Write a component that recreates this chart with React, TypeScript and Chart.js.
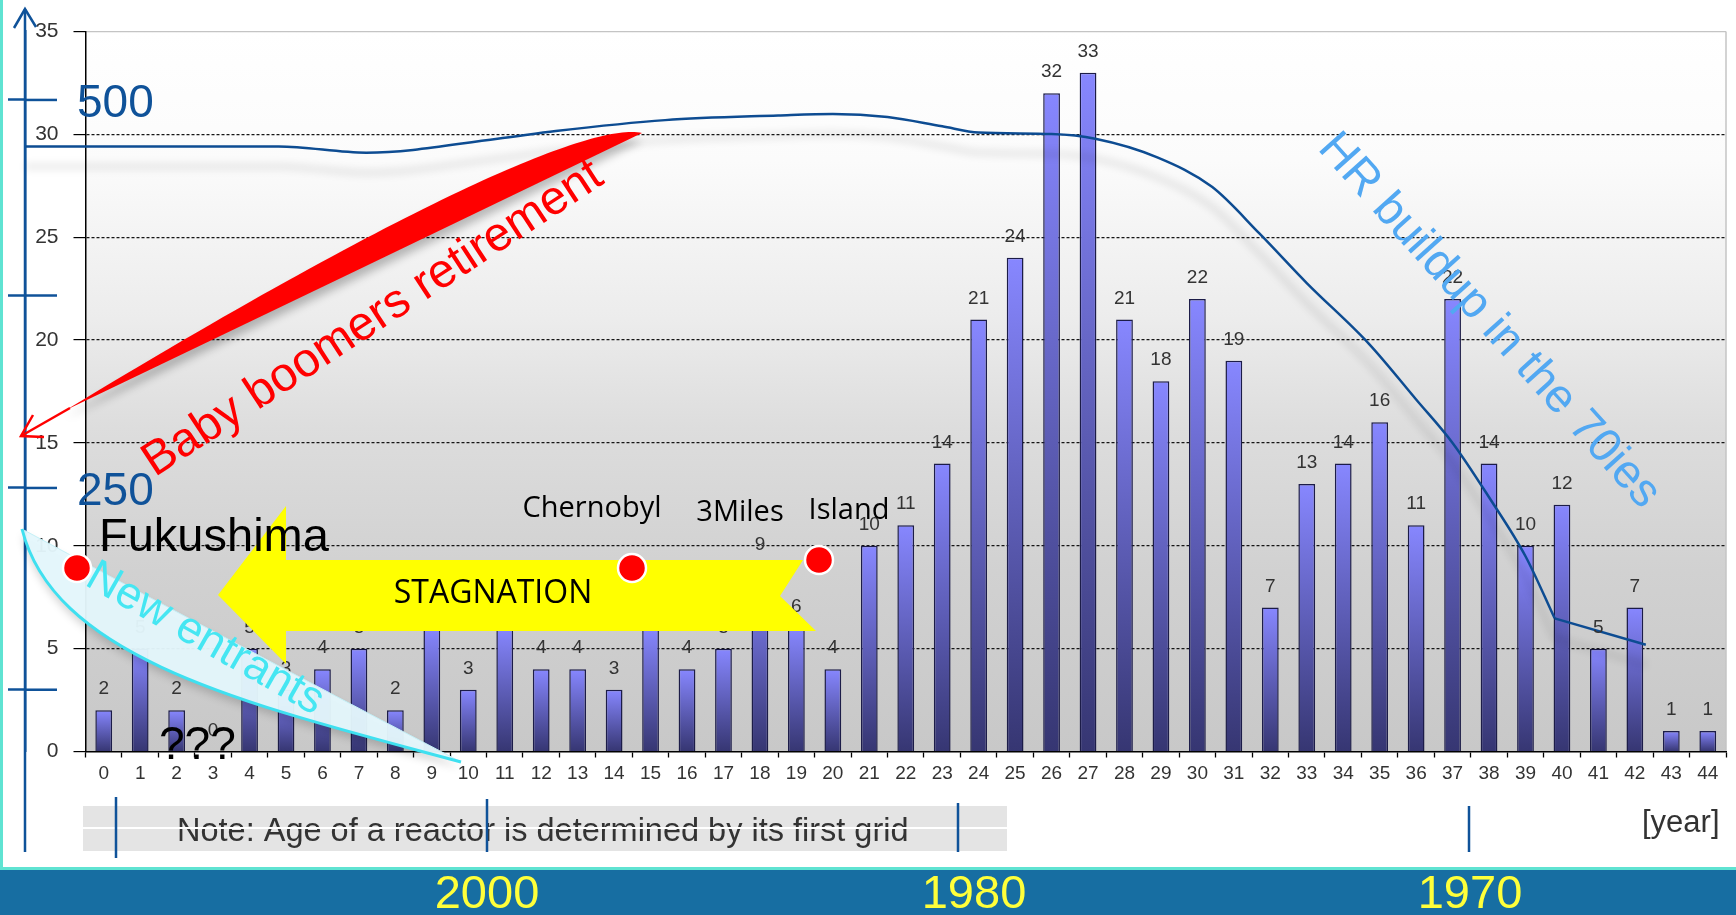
import React, { useEffect, useRef } from 'react';
import { Chart, registerables } from 'chart.js';

Chart.register(...registerables);

// ---------- data ----------
const ageLabels = [
  '0', '1', '2', '3', '4', '5', '6', '7', '8', '9', '10', '11', '12', '13', '14', '15',
  '16', '17', '18', '19', '20', '21', '22', '23', '24', '25', '26', '27', '28', '29', '30',
  '31', '32', '33', '34', '35', '36', '37', '38', '39', '40', '41', '42', '43', '44',
];
const reactorCounts = [
  2, 5, 2, 0, 5, 3, 4, 5, 2, 6, 3, 6, 4, 4, 3, 6, 4, 5, 9, 6, 4, 10, 11, 14, 21, 24, 32, 33,
  21, 18, 22, 19, 7, 13, 14, 16, 11, 22, 14, 10, 12, 5, 7, 1, 1,
];
// HR curve (hand drawn): position along the age axis and staff level
const hrAge = [-2.15, 4.8, 7.2, 10.8, 12.4, 15.4, 18.5, 20.0, 21.5, 23.0, 24.0, 26.0, 27.2, 28.9, 30.4, 31.7, 33.0, 34.7, 36.0, 37.0, 38.0, 39.0, 39.8];
const hrStaff = [470, 470, 466, 475, 480, 487, 490, 491, 489, 483, 479, 478, 475, 463, 444, 414, 382, 343, 307, 279, 244, 206, 166];
// straight tail after the kink
const hrTailAge = [39.8, 42.3];
const hrTailStaff = [166, 149];
const hrTicks = [120, 250, 374, 500];
const hrTickLabels = ['', '250', '', '500'];
const yearMarks = ['2000', '1980', '1970'];

const FONT = "'Liberation Sans', Arial, sans-serif";
const SANS2 = "'Open Sans', 'Noto Sans', sans-serif";
const BLUE = '#0f5299';

const zeroPad = (s: any) => {
  s.paddingTop = 0;
  s.paddingBottom = 0;
  s.paddingLeft = 0;
  s.paddingRight = 0;
};

const bgPlugin = {
  id: 'bgPlugin',
  beforeDraw(chart: any) {
    const { ctx, chartArea: a } = chart;
    ctx.save();
    ctx.fillStyle = '#ffffff';
    ctx.fillRect(0, 0, chart.width, chart.height);
    const g = ctx.createLinearGradient(0, a.top, 0, a.bottom);
    g.addColorStop(0, '#ffffff');
    g.addColorStop(0.18, '#fbfbfb');
    g.addColorStop(0.4, '#ececec');
    g.addColorStop(0.55, '#dddddd');
    g.addColorStop(0.75, '#d1d1d1');
    g.addColorStop(1, '#c8c8c8');
    ctx.fillStyle = g;
    ctx.fillRect(a.left, a.top, a.right - a.left, a.bottom - a.top);
    ctx.strokeStyle = '#c4c4c4';
    ctx.lineWidth = 1.5;
    ctx.beginPath();
    ctx.moveTo(a.right, a.top);
    ctx.lineTo(a.right, a.bottom);
    ctx.stroke();
    ctx.restore();
  },
};

const shadowPlugin = {
  id: 'shadowPlugin',
  beforeDatasetDraw(chart: any, args: any) {
    if (args.index >= 1) {
      const ctx = chart.ctx;
      ctx.save();
      ctx.shadowColor = 'rgba(0,0,0,0.22)';
      ctx.shadowBlur = 9;
      ctx.shadowOffsetY = 20;
    }
  },
  afterDatasetDraw(chart: any, args: any) {
    if (args.index >= 1) chart.ctx.restore();
  },
};

const valueLabels = {
  id: 'valueLabels',
  afterDatasetsDraw(chart: any) {
    const { ctx } = chart;
    const meta = chart.getDatasetMeta(0);
    ctx.save();
    ctx.font = `19px ${FONT}`;
    ctx.fillStyle = '#333333';
    ctx.textAlign = 'center';
    ctx.textBaseline = 'alphabetic';
    meta.data.forEach((bar: any, i: number) => {
      ctx.fillText(String(reactorCounts[i]), bar.x, bar.y - 16);
    });
    ctx.restore();
  },
};

function dot(ctx: CanvasRenderingContext2D, x: number, y: number) {
  ctx.beginPath();
  ctx.arc(x, y, 14, 0, Math.PI * 2);
  ctx.fillStyle = '#ff0000';
  ctx.fill();
  ctx.lineWidth = 2.5;
  ctx.strokeStyle = '#ffffff';
  ctx.stroke();
}

const overlay = {
  id: 'overlay',
  afterDraw(chart: any) {
    const { ctx } = chart;
    const hr = chart.scales.hr;
    const ax = hr.right;
    ctx.save();

    // note box
    ctx.fillStyle = '#e4e4e4';
    ctx.fillRect(83, 806, 924, 45);
    ctx.fillStyle = '#333333';
    ctx.font = `32.5px ${FONT}`;
    ctx.textAlign = 'left';
    ctx.textBaseline = 'alphabetic';
    ctx.fillText('Note: Age of a reactor is determined by its first grid', 177, 841);
    ctx.fillStyle = '#ffffff';
    ctx.fillRect(0, 827, 1010, 2);
    ctx.fillStyle = '#333333';
    ctx.font = `31px ${FONT}`;
    ctx.fillText('[year]', 1642, 832);

    // blue axis extension, arrow and ticks
    ctx.strokeStyle = BLUE;
    ctx.lineWidth = 2.5;
    ctx.beginPath();
    ctx.moveTo(ax, 9);
    ctx.lineTo(ax, 852);
    ctx.stroke();
    ctx.beginPath();
    ctx.moveTo(ax - 11, 28);
    ctx.lineTo(ax, 9);
    ctx.lineTo(ax + 11, 27);
    ctx.stroke();
    hr.ticks.forEach((t: any) => {
      const y = hr.getPixelForValue(t.value);
      ctx.beginPath();
      ctx.moveTo(ax, y);
      ctx.lineTo(57, y);
      ctx.stroke();
    });
    // year tick marks
    [[116, 797, 858], [487, 799, 852], [958, 803, 852], [1469, 806, 852]].forEach(([x, y1, y2]) => {
      ctx.beginPath();
      ctx.moveTo(x, y1);
      ctx.lineTo(x, y2);
      ctx.stroke();
    });

    // bottom band
    ctx.fillStyle = '#176ea2';
    ctx.fillRect(0, 870, chart.width, 45);
    ctx.fillStyle = '#5fe3d2';
    ctx.fillRect(0, 867, chart.width, 3);
    ctx.fillRect(0, 0, 3, 870);
    ctx.fillStyle = '#ffff3a';
    ctx.font = `47px ${FONT}`;
    ctx.textAlign = 'center';
    const yearX = [487, 974, 1470];
    yearMarks.forEach((t, i) => ctx.fillText(t, yearX[i], 908));

    // red blade "Baby boomers retirement"
    ctx.save();
    ctx.shadowColor = 'rgba(0,0,0,0.25)';
    ctx.shadowBlur = 8;
    ctx.shadowOffsetY = 8;
    ctx.fillStyle = '#ff0000';
    ctx.beginPath();
    ctx.moveTo(642, 133);
    ctx.bezierCurveTo(595, 122, 420, 195, 66, 410);
    ctx.quadraticCurveTo(354, 272, 642, 133);
    ctx.closePath();
    ctx.fill();
    ctx.restore();
    ctx.strokeStyle = '#ff0000';
    ctx.lineWidth = 2.5;
    ctx.beginPath();
    ctx.moveTo(70, 408);
    ctx.lineTo(21, 436);
    ctx.stroke();
    ctx.beginPath();
    ctx.moveTo(44, 437);
    ctx.lineTo(21, 436);
    ctx.lineTo(33, 415);
    ctx.stroke();

    ctx.save();
    ctx.translate(373, 319);
    ctx.rotate((-33.2 * Math.PI) / 180);
    ctx.fillStyle = '#ff0000';
    ctx.font = `48px ${FONT}`;
    ctx.textAlign = 'center';
    ctx.textBaseline = 'middle';
    ctx.fillText('Baby boomers retirement', 0, 0);
    ctx.restore();

    // yellow arrow
    ctx.fillStyle = '#ffff00';
    ctx.beginPath();
    ctx.moveTo(218, 595);
    ctx.lineTo(286, 506);
    ctx.lineTo(286, 560);
    ctx.lineTo(803, 560);
    ctx.lineTo(780, 596);
    ctx.lineTo(816, 631);
    ctx.lineTo(286, 631);
    ctx.lineTo(286, 664);
    ctx.closePath();
    ctx.fill();
    ctx.fillStyle = '#000000';
    ctx.font = `32px ${SANS2}`;
    ctx.textAlign = 'center';
    ctx.textBaseline = 'middle';
    ctx.fillText('STAGNATION', 493, 594);

    // new entrants crescent
    ctx.save();
    ctx.shadowColor = 'rgba(0,0,0,0.18)';
    ctx.shadowBlur = 8;
    ctx.shadowOffsetY = 6;
    ctx.fillStyle = 'rgba(228,247,252,0.96)';
    ctx.beginPath();
    ctx.moveTo(22, 529);
    ctx.quadraticCurveTo(200, 625, 461, 762);
    ctx.bezierCurveTo(250, 705, 55, 660, 22, 529);
    ctx.closePath();
    ctx.fill();
    ctx.restore();
    ctx.strokeStyle = '#c4f0f7';
    ctx.lineWidth = 1;
    ctx.beginPath();
    ctx.moveTo(22, 529);
    ctx.quadraticCurveTo(200, 625, 461, 762);
    ctx.stroke();
    ctx.strokeStyle = '#3fe0f0';
    ctx.lineWidth = 3;
    ctx.beginPath();
    ctx.moveTo(461, 762);
    ctx.bezierCurveTo(250, 705, 55, 660, 22, 529);
    ctx.stroke();

    ctx.save();
    ctx.translate(205, 639);
    ctx.rotate((29.6 * Math.PI) / 180);
    ctx.fillStyle = '#45e6f2';
    ctx.font = `45px ${FONT}`;
    ctx.textAlign = 'center';
    ctx.textBaseline = 'middle';
    ctx.fillText('New entrants', 0, 0);
    ctx.restore();

    // events
    ctx.fillStyle = '#000000';
    ctx.font = `47px ${FONT}`;
    ctx.textAlign = 'left';
    ctx.textBaseline = 'alphabetic';
    ctx.fillText('Fukushima', 99, 551);
    ctx.font = `46px ${FONT}`;
    ctx.fillText('???', 159, 759);

    ctx.font = `29px ${SANS2}`;
    ctx.textAlign = 'center';
    ctx.fillText('Chernobyl', 592, 517);
    ctx.fillText('3Miles', 740, 521);
    ctx.fillText('Island', 849, 519);

    dot(ctx, 77, 568);
    dot(ctx, 632, 568);
    dot(ctx, 819, 560);

    // HR text
    ctx.save();
    ctx.translate(1489, 321);
    ctx.rotate((48 * Math.PI) / 180);
    ctx.fillStyle = '#52a8f2';
    ctx.font = `47px ${FONT}`;
    ctx.textAlign = 'center';
    ctx.textBaseline = 'middle';
    ctx.fillText('HR buildup in the 70ies', 0, 0);
    ctx.restore();

    ctx.restore();
  },
};

export default function App() {
  const ref = useRef<HTMLCanvasElement | null>(null);

  useEffect(() => {
    document.body.style.margin = '0';
    document.body.style.overflow = 'hidden';
    const canvas = ref.current;
    if (!canvas) return;

    const barFill = (c: any) => {
      const chart = c.chart;
      if (!chart.chartArea || c.type !== 'data') return '#7b7bf0';
      const y = chart.scales.y;
      const top = y.getPixelForValue(c.raw as number);
      const bottom = y.getPixelForValue(0);
      if (bottom - top < 2) return '#7b7bf0';
      const g = chart.ctx.createLinearGradient(0, top, 0, bottom);
      g.addColorStop(0, '#8787ff');
      g.addColorStop(1, '#363672');
      return g;
    };

    const hrLine = {
      xAxisID: 'xl',
      yAxisID: 'hr',
      borderColor: '#0d4c92',
      borderWidth: 2.5,
      pointRadius: 0,
      clip: false,
      order: 0,
    };

    const chart = new Chart(canvas, {
      type: 'bar',
      data: {
        labels: ageLabels,
        datasets: [
          {
            type: 'bar',
            label: 'Reactors',
            data: reactorCounts,
            xAxisID: 'x',
            yAxisID: 'y',
            backgroundColor: barFill,
            borderColor: '#1c1c48',
            borderWidth: 1.5,
            grouped: false,
            categoryPercentage: 1,
            barPercentage: 0.46,
            order: 1,
          } as any,
          {
            ...hrLine,
            type: 'line',
            label: 'HR',
            data: hrAge.map((a, i) => ({ x: a, y: hrStaff[i] })),
            cubicInterpolationMode: 'monotone',
          } as any,
          {
            ...hrLine,
            type: 'line',
            label: 'HR tail',
            data: hrTailAge.map((a, i) => ({ x: a, y: hrTailStaff[i] })),
            tension: 0,
          } as any,
        ],
      },
      options: {
        responsive: false,
        animation: false,
        devicePixelRatio: 1,
        layout: { padding: { top: 31.5, right: 10, bottom: 0, left: 0 } },
        plugins: { legend: { display: false }, tooltip: { enabled: false } },
        scales: {
          x: {
            type: 'category',
            offset: true,
            grid: { display: true, drawOnChartArea: false, drawTicks: true, tickLength: 6, tickColor: '#000', tickWidth: 1.3, offset: true },
            border: { display: true, color: '#000', width: 1.5 },
            ticks: { font: { family: FONT, size: 19 }, color: '#333', padding: 5, autoSkip: false, maxRotation: 0 },
            afterFit: (s: any) => { s.height = 163.5; zeroPad(s); },
          },
          xl: {
            type: 'linear',
            display: false,
            offset: false,
            grid: { offset: false },
            bounds: 'data',
            min: -0.5,
            max: 44.5,
          },
          y: {
            type: 'linear',
            position: 'left',
            weight: 0,
            min: 0,
            max: 35,
            ticks: { stepSize: 5, font: { family: FONT, size: 21 }, color: '#333', padding: 15 },
            grid: {
              color: (c: any) => (c.tick && c.tick.value === 35 ? '#c4c4c4' : c.tick && c.tick.value === 0 ? 'rgba(0,0,0,0)' : '#151515'),
              lineWidth: 1.2,
              tickColor: '#000',
              tickLength: 12,
              tickWidth: 1.2,
            },
            border: {
              display: true,
              color: '#000',
              width: 1.5,
              dash: (c: any) => (c.tick && c.tick.value > 0 && c.tick.value < 35 ? [3, 2] : []),
            },
            afterFit: (s: any) => { s.width = 60.5; zeroPad(s); },
          },
          hr: {
            type: 'linear',
            position: 'left',
            weight: 1,
            min: 80.2,
            max: 544.1,
            afterBuildTicks: (s: any) => { s.ticks = hrTicks.map((v) => ({ value: v })); },
            ticks: {
              mirror: true,
              padding: 52,
              labelOffset: 4,
              autoSkip: false,
              color: BLUE,
              font: { family: FONT, size: 46 },
              callback: (v: any) => {
                const k = hrTicks.indexOf(Number(v));
                return k >= 0 ? hrTickLabels[k] : '';
              },
            },
            grid: { drawOnChartArea: false, drawTicks: true, tickLength: 17, tickColor: BLUE, tickWidth: 2.5 },
            border: { display: true, color: BLUE, width: 2.5 },
            afterFit: (s: any) => { s.width = 25; zeroPad(s); },
          },
        },
      } as any,
      plugins: [bgPlugin, shadowPlugin, valueLabels, overlay],
    });

    return () => chart.destroy();
  }, []);

  return (
    <div style={{ position: 'absolute', left: 0, top: 0, width: 1736, height: 915, background: '#fff' }}>
      <canvas ref={ref} width={1736} height={915} style={{ display: 'block', width: 1736, height: 915 }} />
    </div>
  );
}
